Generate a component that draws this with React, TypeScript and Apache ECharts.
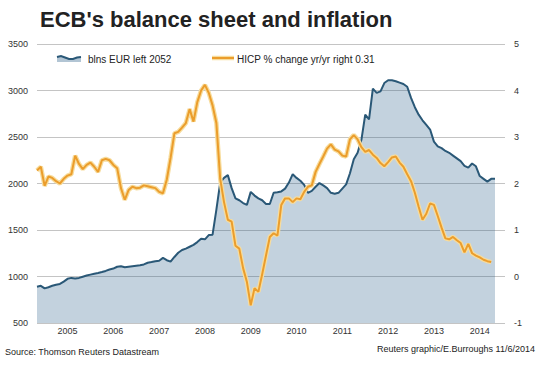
import React, { useEffect, useRef } from 'react';
import * as echarts from 'echarts';

// Monthly observations starting November 2004
const startYear = 2004;
const startMonth = 11;

// ECB balance sheet, bln EUR (left axis)
const balanceBln = [
  890, 900, 872, 885, 900, 912, 920, 945, 975, 985, 978, 985,
  998, 1010, 1020, 1030, 1038, 1048, 1060, 1075, 1085, 1105, 1110, 1100,
  1105, 1110, 1115, 1120, 1130, 1148, 1155, 1165, 1170, 1200, 1175, 1160,
  1210, 1255, 1285, 1300, 1320, 1340, 1370, 1405, 1400, 1445, 1450, 1720,
  2010, 2060, 2090, 1950, 1840, 1820, 1790, 1770, 1910, 1870, 1840, 1820,
  1780, 1780, 1900, 1905, 1915, 1945, 2010, 2100, 2060, 2030, 1985, 1900,
  1920, 1965, 2005, 1980, 1950, 1900, 1890, 1900, 1945, 1990, 2110, 2260,
  2330, 2470, 2740, 2690, 3020, 2975, 2990, 3080, 3110, 3110, 3100, 3085,
  3070, 3040, 2920, 2820, 2740, 2680, 2630, 2580, 2450, 2400, 2380, 2350,
  2330, 2300, 2270, 2240, 2190, 2170, 2215, 2185, 2080, 2050, 2020, 2050,
  2052,
];

// HICP % change yr/yr (right axis)
const hicpPct = [
  2.28, 2.36, 1.95, 2.15, 2.12, 2.05, 2.0, 2.1, 2.17, 2.2, 2.6, 2.42,
  2.31, 2.4, 2.45, 2.36, 2.25, 2.5, 2.53, 2.5, 2.4, 2.33, 1.9, 1.65,
  1.86, 1.93, 1.9, 1.91, 1.96, 1.94, 1.92, 1.9, 1.82, 1.79, 2.08, 2.55,
  3.08, 3.11, 3.2, 3.3, 3.6, 3.33, 3.75, 4.0, 4.12, 3.95, 3.68, 3.3,
  2.1, 1.6, 1.22, 1.18, 0.66, 0.6, 0.18, -0.12, -0.62, -0.25, -0.33, 0.05,
  0.45, 0.85, 0.93, 0.88, 1.54, 1.68, 1.68, 1.6, 1.68, 1.66, 1.82, 1.93,
  1.96, 2.25, 2.42, 2.58, 2.75, 2.84, 2.73, 2.69, 2.6, 2.58, 2.95, 3.04,
  2.95, 2.78, 2.68, 2.72, 2.62, 2.55, 2.44, 2.37, 2.46, 2.56, 2.58, 2.45,
  2.36, 2.2, 2.05, 1.8, 1.5, 1.22, 1.35, 1.57, 1.54, 1.3, 1.05, 0.82,
  0.8, 0.85, 0.78, 0.72, 0.52, 0.7, 0.5, 0.45, 0.41, 0.36, 0.33, 0.31,
];

const yearLabels = ['2005', '2006', '2007', '2008', '2009', '2010', '2011', '2012', '2013', '2014'];

const leftAxis = { min: 500, max: 3500, step: 500 };
const rightAxis = { min: -1, max: 5, step: 1 };

const titleText = "ECB's balance sheet and inflation";
const legendBalance = 'blns EUR left 2052';
const legendHicp = 'HICP % change yr/yr right 0.31';
const sourceText = 'Source: Thomson Reuters Datastream';
const creditText = 'Reuters graphic/E.Burroughs 11/6/2014';

const FONT = '"Liberation Sans", Arial, Helvetica, sans-serif';
const BLUE_LINE = '#2a5877';
const AREA = 'rgba(41,94,136,0.40)';
const ORANGE = '#eb9d2c';
const HALO = '#f7dc9c';

export default function App() {
  const ref = useRef<HTMLDivElement>(null);

  useEffect(() => {
    if (!ref.current) return;
    const chart = echarts.init(ref.current, null, { renderer: 'svg' });

    const monthIndex = (y: number, m: number) => (y - startYear) * 12 + (m - startMonth);
    const labelPositions = yearLabels.map((y) => monthIndex(Number(y), 7));
    const balanceData = balanceBln.map((v, i) => [i, v]);
    const hicpData = hicpPct.map((v, i) => [i, v]);
    const lastIdx = balanceBln.length - 1;

    chart.setOption({
      animation: false,
      textStyle: { fontFamily: FONT },
      title: {
        text: titleText,
        left: 35,
        top: 3,
        textStyle: { fontFamily: FONT, fontSize: 22, fontWeight: 'bold', color: '#222' },
      },
      grid: { left: 37, right: 37, top: 44, bottom: 42, containLabel: false },
      xAxis: {
        type: 'value',
        min: 0,
        max: lastIdx * (468 / 458),
        axisLine: { show: false },
        axisTick: { show: false },
        splitLine: { show: false },
        axisLabel: {
          customValues: labelPositions,
          formatter: (v: number) => {
            const k = labelPositions.findIndex((p) => Math.abs(p - v) < 0.01);
            return k >= 0 ? yearLabels[k] : '';
          },
          fontSize: 9,
          color: '#333',
          margin: 3,
          fontFamily: FONT,
        },
      },
      yAxis: [
        {
          type: 'value',
          min: leftAxis.min,
          max: leftAxis.max,
          interval: leftAxis.step,
          axisLine: { show: false },
          axisTick: { show: false },
          axisLabel: {
            fontSize: 9,
            color: '#333',
            margin: 9,
            fontFamily: FONT,
            formatter: (v: number) => String(v),
          },
          splitLine: { show: true, lineStyle: { color: '#c4c4c4', width: 1 } },
        },
        {
          type: 'value',
          min: rightAxis.min,
          max: rightAxis.max,
          interval: rightAxis.step,
          position: 'right',
          axisLine: { show: false },
          axisTick: { show: false },
          axisLabel: {
            fontSize: 9,
            color: '#333',
            margin: 9,
            fontFamily: FONT,
            formatter: (v: number) => String(v),
          },
          splitLine: { show: false },
        },
      ],
      series: [
        {
          name: legendBalance,
          type: 'line',
          yAxisIndex: 0,
          data: balanceData,
          showSymbol: false,
          lineStyle: { color: BLUE_LINE, width: 2 },
          areaStyle: { color: AREA, origin: 'start' },
          z: 2,
        },
        {
          name: 'hicp-halo',
          type: 'line',
          yAxisIndex: 1,
          data: hicpData,
          showSymbol: false,
          lineStyle: { color: HALO, width: 4.5 },
          z: 3,
        },
        {
          name: legendHicp,
          type: 'line',
          yAxisIndex: 1,
          data: hicpData,
          showSymbol: false,
          lineStyle: { color: ORANGE, width: 2 },
          z: 4,
        },
      ],
      graphic: [
        {
          type: 'polygon',
          shape: {
            points: [
              [57, 57], [61, 56], [65, 57.5], [69, 59], [73, 59], [77, 57.5], [81, 57],
              [81, 62], [57, 62],
            ],
          },
          style: { fill: '#b2c5d4' },
        },
        {
          type: 'polyline',
          shape: {
            points: [[57, 57], [61, 56], [65, 57.5], [69, 59], [73, 59], [77, 57.5], [81, 57]],
          },
          style: { stroke: BLUE_LINE, lineWidth: 2, fill: null },
        },
        {
          type: 'text',
          x: 88,
          y: 59,
          style: { text: legendBalance, font: `10px ${FONT}`, fill: '#222', verticalAlign: 'middle' },
        },
        {
          type: 'line',
          shape: { x1: 212, y1: 58, x2: 234, y2: 58 },
          style: { stroke: HALO, lineWidth: 4.5 },
        },
        {
          type: 'line',
          shape: { x1: 212, y1: 58, x2: 234, y2: 58 },
          style: { stroke: ORANGE, lineWidth: 2 },
        },
        {
          type: 'text',
          x: 237,
          y: 59,
          style: { text: legendHicp, font: `10px ${FONT}`, fill: '#222', verticalAlign: 'middle' },
        },
        {
          type: 'text',
          x: 5,
          y: 352,
          style: { text: sourceText, font: `9px ${FONT}`, fill: '#222', verticalAlign: 'middle' },
        },
        {
          type: 'text',
          x: 535,
          y: 349,
          style: { text: creditText, font: `9px ${FONT}`, fill: '#222', verticalAlign: 'middle', align: 'right' },
        },
      ],
    });

    return () => chart.dispose();
  }, []);

  return (
    <div
      ref={ref}
      style={{ position: 'fixed', left: 0, top: 0, width: 542, height: 365, background: '#fff' }}
    />
  );
}
